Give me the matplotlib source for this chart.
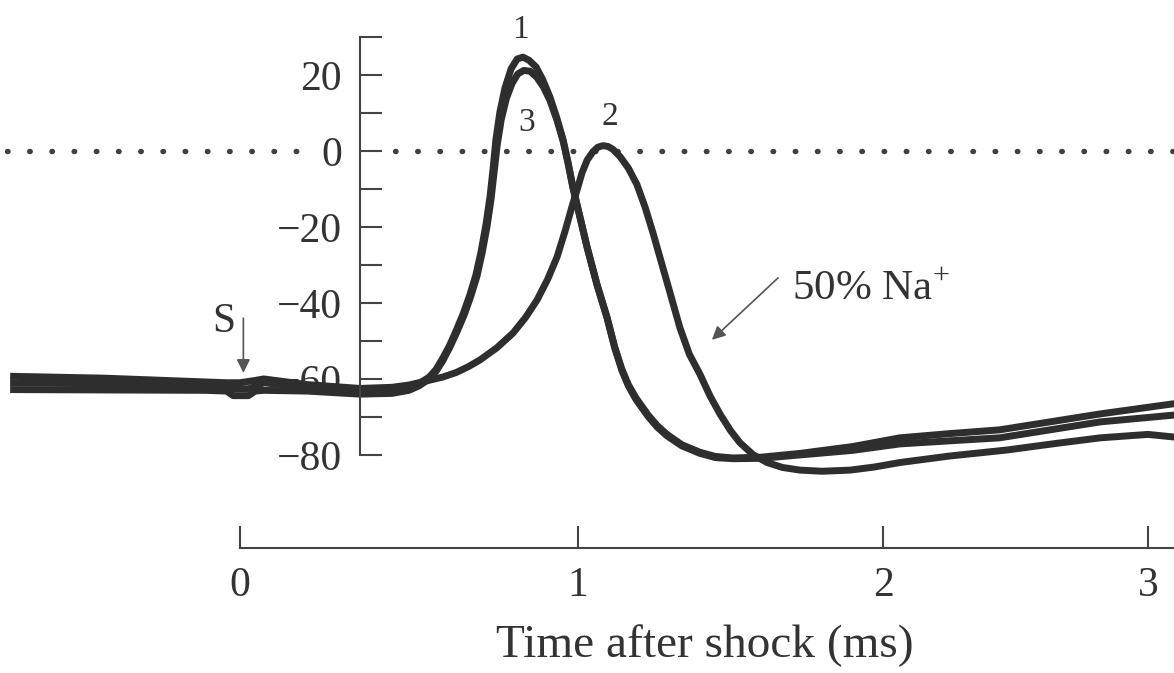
import numpy as np
import matplotlib.pyplot as plt
from matplotlib.ticker import NullLocator

plt.rcParams['font.family'] = ['Liberation Serif', 'DejaVu Serif']
plt.rcParams['mathtext.fontset'] = 'custom'
plt.rcParams['mathtext.rm'] = 'Liberation Serif'
plt.rcParams['axes.unicode_minus'] = True

# ---------------------------------------------------------------------------
# Datos (t en ms, V en mV)

# traza 1: control
t1 = [-0.68, -0.40, -0.10, -0.04, -0.02, 0.025, 0.045, 0.07, 0.20, 0.355, 0.45, 0.50,
      0.53, 0.56, 0.58, 0.60, 0.62, 0.639, 0.660, 0.680, 0.698, 0.713, 0.728, 0.740,
      0.749, 0.757, 0.769, 0.784, 0.802, 0.820, 0.837, 0.855, 0.876, 0.896, 0.917,
      0.937, 0.956, 0.970, 0.985, 1.007, 1.030, 1.062, 1.095, 1.12, 1.144, 1.165,
      1.19, 1.23, 1.26, 1.292, 1.34, 1.40, 1.45, 1.508, 1.60, 1.728, 1.90, 2.064,
      2.25, 2.44, 2.63, 2.82, 3.10]
v1 = [-61.0, -61.3, -61.8, -62.0, -62.6, -62.6, -62.0, -61.0, -62.2, -63.2, -63.0, -62.2,
      -61.2, -59.5, -57.5, -54.5, -51.2, -47.4, -42.9, -37.9, -32.6, -26.6, -19.2, -11.8,
      -4.5, 2.9, 10.3, 16.6, 21.6, 24.2, 24.7, 23.9, 22.1, 18.7, 14.2,
      8.8, 2.9, -2.8, -9.5, -17.5, -25.3, -35.0, -43.7, -51.5, -57.5, -61.5,
      -65.0, -69.5, -72.3, -74.6, -77.3, -79.3, -80.4, -80.8, -80.6, -79.6, -77.8, -75.5,
      -74.4, -73.4, -71.3, -69.2, -66.5]

# traza 2: 50% Na+
t2 = [-0.68, -0.40, -0.10, -0.04, 0.00, 0.045, 0.07, 0.20, 0.355, 0.45, 0.50, 0.562,
      0.60, 0.64, 0.675, 0.710, 0.76, 0.808, 0.845, 0.879, 0.91, 0.938, 0.962, 0.982,
      0.998, 1.013, 1.030, 1.049, 1.065, 1.082, 1.098, 1.115, 1.138, 1.165, 1.193,
      1.22, 1.246, 1.275, 1.302, 1.334, 1.365, 1.400, 1.433, 1.466, 1.50, 1.531,
      1.575, 1.620, 1.67, 1.728, 1.80, 1.892, 1.97, 2.064, 2.25, 2.468, 2.65, 2.82,
      3.00, 3.10]
v2 = [-59.3, -59.8, -60.8, -61.0, -61.0, -60.4, -60.0, -61.5, -62.5, -62.2, -61.6, -60.3,
      -59.5, -58.3, -56.8, -55.0, -51.8, -47.9, -43.8, -39.2, -33.8, -27.9, -21.0, -14.7,
      -10.0, -5.8, -2.4, -0.2, 1.0, 1.4, 1.2, 0.4, -1.5, -4.5, -8.8,
      -14.8, -21.6, -29.8, -37.4, -46.5, -53.5, -58.8, -64.5, -69.3, -73.6, -76.8,
      -80.0, -82.0, -83.3, -84.0, -84.3, -84.0, -83.2, -82.0, -80.3, -78.7, -77.0, -75.5,
      -74.6, -75.3]

# traza 3: recuperacion
t3 = [-0.68, -0.40, -0.10, -0.04, -0.02, 0.025, 0.045, 0.07, 0.20, 0.355, 0.45, 0.50,
      0.53, 0.56, 0.58, 0.60, 0.62, 0.642, 0.663, 0.683, 0.701, 0.716, 0.731, 0.743,
      0.752, 0.761, 0.773, 0.788, 0.805, 0.822, 0.840, 0.858, 0.878, 0.898, 0.917,
      0.937, 0.956, 0.970, 0.985, 1.007, 1.030, 1.062, 1.095, 1.12, 1.144, 1.165,
      1.19, 1.23, 1.26, 1.292, 1.34, 1.40, 1.45, 1.508, 1.60, 1.728, 1.90, 2.064,
      2.25, 2.44, 2.63, 2.82, 3.10]
v3 = [-62.8, -62.9, -63.0, -63.2, -64.4, -64.4, -63.2, -63.0, -63.2, -64.0, -63.8, -63.0,
      -61.8, -60.0, -58.0, -55.2, -51.8, -47.6, -43.2, -38.2, -33.0, -27.0, -19.8, -12.5,
      -5.4, 1.6, 8.3, 13.8, 17.8, 20.3, 21.2, 21.0, 19.4, 16.8, 13.3,
      8.3, 2.6, -3.0, -9.7, -17.7, -25.5, -35.2, -43.9, -51.7, -57.8, -61.8,
      -65.4, -69.9, -72.7, -75.0, -77.6, -79.6, -80.7, -81.0, -80.9, -80.0, -78.8, -77.1,
      -76.3, -75.5, -73.4, -71.3, -69.5]

x_ticks = [0, 1, 2, 3]
y_ticks = [-80, -70, -60, -50, -40, -30, -20, -10, 0, 10, 20, 30]
y_ticklabels = ['\u221280', '', '\u221260', '', '\u221240', '', '\u221220', '', '0', '', '20', '']

# ---------------------------------------------------------------------------
# Escala de tiempo: la figura escaneada no tiene el eje x uniforme

knot_t = [-10.0, 0.0, 1.0, 2.0, 3.0, 10.0]
knot_px = [240 - 3380, 240, 578, 883, 1148, 1148 + 7 * 265]

def fwd(t):
    return np.interp(t, knot_t, knot_px)

def inv(p):
    return np.interp(p, knot_px, knot_t)

trace_color = '#2e2e2e'
text_color = '#333333'

fig = plt.figure(figsize=(11.74, 6.73), dpi=100)
ax = fig.add_axes([0, 0, 1, 1])
ax.set_xscale('function', functions=(fwd, inv))
ax.set_xlim(-0.71, 3.098)
ax.set_ylim(-137.4, 39.74)

# linea de puntos en 0 mV (cortada en la etiqueta)
dot_style = dict(color='#404040', lw=3.9, linestyle=(0, (0.1, 4.0)), dash_capstyle='round')
ax.plot([-0.69, 0.19], [0, 0], **dot_style)
ax.plot([0.46, 3.098], [0, 0], **dot_style)

for t, v in [(t2, v2), (t3, v3), (t1, v1)]:
    ax.plot(t, v, color=trace_color, lw=5.0, solid_capstyle='butt', solid_joinstyle='round')

# ejes flotantes
for s in ['top', 'right']:
    ax.spines[s].set_visible(False)
ax.spines['left'].set_position(('data', 0.355))
ax.spines['left'].set_bounds(-80, 30)
ax.spines['bottom'].set_position(('data', -104.5))
ax.spines['bottom'].set_bounds(0, 3.098)
for s in ['left', 'bottom']:
    ax.spines[s].set_linewidth(1.5)
    ax.spines[s].set_color('#444444')

ax.set_xticks(x_ticks)
ax.set_xticklabels([str(x) for x in x_ticks])
ax.xaxis.set_minor_locator(NullLocator())
ax.set_yticks(y_ticks)
ax.set_yticklabels(y_ticklabels)
ax.tick_params(axis='both', direction='in', length=15.8, width=1.5, pad=13,
               labelsize=30, color='#444444', labelcolor=text_color)

ax.set_xlabel('Time after shock (ms)', fontsize=34, color=text_color)
ax.xaxis.set_label_coords(0.6, 0.072)
ax.xaxis.label.set_va('top')

# etiquetas de las trazas
ax.text(0.830, 31.8, '1', fontsize=24, ha='center', va='center', color=text_color)
ax.text(0.849, 7.4, '3', fontsize=24, ha='center', va='center', color=text_color)
ax.text(1.105, 8.9, '2', fontsize=24, ha='center', va='center', color=text_color)

# estimulo
ax.text(-0.047, -45.0, 'S', fontsize=30, ha='center', va='center', color=text_color)
ax.annotate('', xy=(0.010, -58.4), xytext=(0.010, -44),
            arrowprops=dict(arrowstyle='-|>', color='#555555', lw=1.2,
                            mutation_scale=20, shrinkA=0, shrinkB=0))

ax.text(1.70, -39.2, '50% Na$^{+}$', fontsize=31, ha='left', va='baseline', color=text_color)
ax.annotate('', xy=(1.439, -49.7), xytext=(1.656, -33.4),
            arrowprops=dict(arrowstyle='-|>', color='#555555', lw=1.2,
                            mutation_scale=20, shrinkA=0, shrinkB=0))

fig.savefig('out.png', dpi=100)
